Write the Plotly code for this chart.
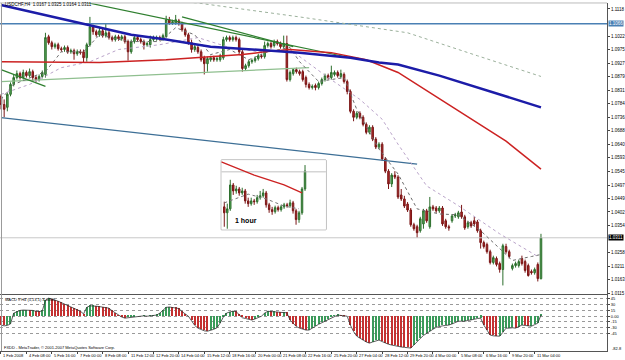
import plotly.graph_objects as go

# ---------------- DATA ----------------
opens = [1.0810,1.0781,1.0771,1.0817,1.0852,1.0876,1.0890,1.0876,1.0894,1.0883,
1.0897,1.0876,1.0869,1.0880,1.0887,1.1020,1.0999,1.0985,1.0992,1.0978,
1.0975,1.0982,1.0967,1.0971,1.0960,1.0967,1.0967,1.0946,1.0992,1.1055,
1.1038,1.1027,1.1041,1.1024,1.1034,1.1017,1.1010,1.1020,1.1013,1.1020,
1.1003,1.0967,1.1003,1.1017,1.1010,1.1003,1.0992,1.0992,1.1010,1.1013,
1.1017,1.1013,1.1020,1.1080,1.1069,1.1069,1.1076,1.1066,1.1045,1.1027,
1.0999,1.0975,1.0982,1.0967,1.0946,1.0925,1.0939,1.0946,1.0939,1.0939,
1.0946,1.1010,1.1017,1.1010,1.1017,1.1010,1.0967,1.0908,1.0918,1.0932,
1.0936,1.0943,1.0953,1.0950,1.0989,1.0996,1.0989,1.1003,1.0996,1.0985,
1.0996,1.0869,1.0890,1.0904,1.0897,1.0897,1.0876,1.0852,1.0841,1.0848,
1.0841,1.0855,1.0869,1.0883,1.0876,1.0887,1.0894,1.0880,1.0887,1.0862,
1.0827,1.0757,1.0736,1.0750,1.0736,1.0711,1.0683,1.0701,1.0659,1.0631,
1.0641,1.0589,1.0546,1.0501,1.0532,1.0525,1.0462,1.0448,1.0430,1.0409,
1.0357,1.0350,1.0336,1.0360,1.0406,1.0350,1.0420,1.0416,1.0406,1.0416,
1.0371,1.0350,1.0371,1.0388,1.0385,1.0402,1.0385,1.0350,1.0364,1.0371,
1.0367,1.0336,1.0294,1.0287,1.0262,1.0224,1.0238,1.0220,1.0199,1.0280,
1.0262,1.0203,1.0213,1.0213,1.0238,1.0227,1.0213,1.0192,1.0188,1.0217,
1.0167]
highs = [1.0817,1.0799,1.0824,1.0859,1.0887,1.0901,1.0897,1.0904,1.0901,1.0908,
1.0904,1.0883,1.0887,1.0901,1.1034,1.1027,1.1006,1.0999,1.0999,1.0985,
1.0989,1.0989,1.0978,1.0978,1.0975,1.0975,1.0975,1.0999,1.1090,1.1062,
1.1045,1.1055,1.1048,1.1066,1.1041,1.1024,1.1027,1.1027,1.1027,1.1027,
1.1010,1.1010,1.1024,1.1024,1.1017,1.1010,1.1003,1.1024,1.1024,1.1024,
1.1024,1.1031,1.1094,1.1090,1.1080,1.1097,1.1083,1.1073,1.1052,1.1034,
1.1010,1.0992,1.0989,1.0975,1.0953,1.0950,1.0953,1.0953,1.0950,1.0960,
1.1020,1.1024,1.1024,1.1024,1.1024,1.1017,1.0975,1.0925,1.0939,1.0943,
1.0950,1.0960,1.0960,1.1003,1.1003,1.1003,1.1010,1.1010,1.1003,1.1024,
1.1024,1.0901,1.0908,1.0911,1.0904,1.0904,1.0883,1.0859,1.0852,1.0855,
1.0862,1.0876,1.0890,1.0890,1.0918,1.0901,1.0901,1.0904,1.0894,1.0869,
1.0834,1.0764,1.0757,1.0757,1.0743,1.0718,1.0708,1.0708,1.0666,1.0648,
1.0648,1.0596,1.0553,1.0539,1.0546,1.0532,1.0483,1.0459,1.0437,1.0416,
1.0364,1.0357,1.0385,1.0413,1.0413,1.0455,1.0427,1.0423,1.0423,1.0423,
1.0378,1.0357,1.0395,1.0399,1.0406,1.0427,1.0392,1.0371,1.0371,1.0385,
1.0374,1.0343,1.0301,1.0294,1.0269,1.0248,1.0245,1.0227,1.0290,1.0290,
1.0269,1.0220,1.0227,1.0234,1.0248,1.0234,1.0220,1.0199,1.0206,1.0224,
1.0325]
lows = [1.0764,1.0736,1.0757,1.0810,1.0845,1.0869,1.0869,1.0869,1.0876,1.0876,
1.0862,1.0859,1.0862,1.0873,1.0876,1.0992,1.0975,1.0978,1.0971,1.0967,
1.0967,1.0960,1.0960,1.0939,1.0953,1.0957,1.0929,1.0932,1.0985,1.1027,
1.1020,1.1020,1.1017,1.1017,1.1010,1.1003,1.1003,1.1006,1.1006,1.0996,
1.0936,1.0960,1.0996,1.1003,1.0996,1.0975,1.0985,1.0982,1.1003,1.1006,
1.1006,1.1006,1.1017,1.1062,1.1062,1.1062,1.1059,1.1038,1.1020,1.0992,
1.0964,1.0967,1.0960,1.0932,1.0887,1.0897,1.0932,1.0932,1.0932,1.0932,
1.0939,1.1003,1.1003,1.1003,1.1003,1.0960,1.0897,1.0901,1.0911,1.0925,
1.0929,1.0936,1.0943,1.0943,1.0982,1.0978,1.0982,1.0989,1.0978,1.0978,
1.0862,1.0862,1.0883,1.0890,1.0883,1.0862,1.0841,1.0834,1.0834,1.0831,
1.0834,1.0848,1.0862,1.0869,1.0869,1.0880,1.0876,1.0873,1.0855,1.0817,
1.0750,1.0722,1.0729,1.0729,1.0704,1.0676,1.0676,1.0652,1.0624,1.0624,
1.0582,1.0539,1.0483,1.0490,1.0518,1.0448,1.0441,1.0416,1.0402,1.0350,
1.0336,1.0311,1.0329,1.0343,1.0364,1.0343,1.0406,1.0399,1.0399,1.0353,
1.0343,1.0336,1.0364,1.0381,1.0378,1.0378,1.0339,1.0343,1.0346,1.0353,
1.0329,1.0273,1.0273,1.0255,1.0217,1.0217,1.0210,1.0188,1.0143,1.0255,
1.0238,1.0196,1.0206,1.0206,1.0213,1.0188,1.0174,1.0181,1.0181,1.0157,
1.0164]
closes = [1.0781,1.0764,1.0817,1.0852,1.0876,1.0890,1.0876,1.0894,1.0883,1.0897,
1.0876,1.0869,1.0880,1.0894,1.1017,1.0999,1.0985,1.0992,1.0978,1.0975,
1.0982,1.0967,1.0971,1.0960,1.0967,1.0964,1.0946,1.0992,1.1055,1.1038,
1.1027,1.1041,1.1024,1.1034,1.1017,1.1010,1.1020,1.1013,1.1020,1.1003,
1.0967,1.1003,1.1017,1.1010,1.1003,1.0992,1.0996,1.1010,1.1017,1.1017,
1.1013,1.1024,1.1080,1.1069,1.1073,1.1080,1.1066,1.1045,1.1027,1.0999,
1.0975,1.0985,1.0967,1.0939,1.0925,1.0943,1.0946,1.0939,1.0943,1.0953,
1.1010,1.1017,1.1010,1.1017,1.1010,1.0967,1.0908,1.0918,1.0932,1.0936,
1.0943,1.0953,1.0950,1.0989,1.0996,1.0985,1.1003,1.0996,1.0985,1.0996,
1.0869,1.0894,1.0904,1.0897,1.0890,1.0869,1.0852,1.0841,1.0845,1.0841,
1.0855,1.0869,1.0883,1.0876,1.0894,1.0894,1.0883,1.0890,1.0862,1.0827,
1.0757,1.0736,1.0750,1.0736,1.0711,1.0683,1.0701,1.0659,1.0631,1.0641,
1.0589,1.0546,1.0501,1.0532,1.0525,1.0455,1.0448,1.0423,1.0409,1.0357,
1.0343,1.0329,1.0378,1.0406,1.0371,1.0420,1.0413,1.0406,1.0416,1.0360,
1.0350,1.0346,1.0388,1.0392,1.0399,1.0385,1.0346,1.0364,1.0353,1.0360,
1.0336,1.0294,1.0280,1.0262,1.0224,1.0241,1.0217,1.0199,1.0283,1.0262,
1.0245,1.0213,1.0220,1.0227,1.0220,1.0196,1.0178,1.0188,1.0199,1.0167,
1.0311]

macd = [-23,-25,-24,-20,8,12,15,16,16,15,
15,13,12,14,41,47,45,42,39,35,
31,27,24,21,17,13,6,23,27,27,
26,25,24,23,21,14,8,2,-2,-5,
-4,-2,-1,0,0,1,0,1,2,3,
8,15,23,24,23,22,20,12,5,0,
-12,-24,-31,-35,-38,-39,-37,-34,-30,-18,
-2,8,11,13,12,3,-4,-6,-9,-10,
-7,-3,0,8,13,12,12,11,10,10,
9,-10,-20,-27,-31,-34,-36,-36,-32,-26,
-21,-17,-13,-7,-3,1,3,2,1,0,
-23,-40,-52,-58,-62,-67,-70,-67,-64,-62,
-66,-70,-73,-75,-77,-78,-80,-81,-82,-82.8,
-75,-65,-58,-50,-44,-39,-34,-29,-26,-25,
-24,-23,-20,-16,-13,-13,-13,-11,-10,-8,
-6,-5,-23,-38,-49,-51,-52,-52,-42,-31,
-31,-30,-31,-28,-23,-24,-26,-26,-22,-18,
3]

# moving averages (bar index, price) read at points along each line
ma_blue_bar = [0, 28, 41, 52, 66, 94, 110, 119, 125, 138, 150, 160, 170]
ma_blue_val = [1.1132, 1.1062, 1.1027, 1.1010, 1.0985, 1.0964, 1.0946, 1.0929, 1.0922, 1.0883, 1.0841, 1.0806, 1.0771]
ma_red_bar = [0, 31, 52, 66, 76, 83, 91, 104, 115, 125, 148, 159, 170]
ma_red_val = [1.0932, 1.0929, 1.0939, 1.0950, 1.0957, 1.0967, 1.0975, 1.0964, 1.0939, 1.0894, 1.0729, 1.0652, 1.0553]
ma_slow_bar = [55, 62, 94, 128, 150, 170]
ma_slow_val = [1.1145, 1.1139, 1.1090, 1.1034, 1.0953, 1.0880]
ema_mid_bar = [0, 9, 19, 28, 37, 50, 62, 72, 81, 91, 103, 113, 120, 125, 134, 144, 157, 169]
ema_mid_val = [1.0817, 1.0852, 1.0911, 1.0932, 1.0975, 1.0992, 1.1017, 1.0982, 1.0967, 1.0975,
               1.0876, 1.0799, 1.0729, 1.0641, 1.0494, 1.0424, 1.0325, 1.0245]
ema_fast_bar = [0, 4, 14, 19, 26, 31, 40, 50, 55, 61, 66, 72, 78, 84, 91, 94, 100, 108, 112, 119,
                125, 131, 138, 144, 151, 157, 161, 167, 170]
ema_fast_val = [1.0799, 1.0852, 1.0897, 1.0967, 1.0967, 1.1027, 1.1003, 1.1003, 1.1052, 1.1027,
                1.0957, 1.0975, 1.0939, 1.0967, 1.0982, 1.0932, 1.0862, 1.0876, 1.0764, 1.0624,
                1.0536, 1.0413, 1.0395, 1.0392, 1.0336, 1.0273, 1.0231, 1.0245, 1.0252]

# hand-drawn trend lines (bar index, price)
trend_lines = {
    "green_a": ([23, 110], [1.1150, 1.0946]),
    "green_b": ([57, 92], [1.1090, 1.0985]),
    "green_c": ([0, 14], [1.0904, 1.0845]),
}
sage_bar = [0, 66, 97]
sage_val = [1.0862, 1.0897, 1.0911]
channel_bar = [0, 131]
channel_val = [1.0735, 1.0571]
level_price = 1.1066
last_price = 1.0311

# axis labels (the two hidden under the coloured price boxes are left out)
price_ticks = ["1.1118", "1.1022", "1.0975", "1.0927", "1.0879", "1.0831", "1.0784",
               "1.0736", "1.0688", "1.0640", "1.0593", "1.0545", "1.0497", "1.0449", "1.0402",
               "1.0354", "1.0258", "1.0211", "1.0163", "1.0115"]
macd_ticks = [45, 30, 15, 0, -15, -30, -45]
macd_tick_text = ["45", "30", "15", "0.00", "-15", "-30", "-45"]
macd_min_label = "-82.8"

date_labels = ["1 Feb 2008", "4 Feb 08:00", "5 Feb 16:00", "7 Feb 00:00", "8 Feb 08:00",
               "11 Feb 12:00", "12 Feb 20:00", "14 Feb 04:00", "15 Feb 12:00", "18 Feb 16:00",
               "20 Feb 00:00", "21 Feb 08:00", "22 Feb 16:00", "25 Feb 20:00", "27 Feb 04:00",
               "28 Feb 12:00", "29 Feb 20:00", "4 Mar 00:00", "5 Mar 08:00", "6 Mar 16:00",
               "9 Mar 20:00", "11 Mar 04:00"]
bars_per_label = 8

# inset "1 hour" chart
ins_open = [1.0230,1.0215,1.0225,1.0285,1.0270,1.0275,1.0265,1.0270,1.0245,1.0238,
            1.0245,1.0243,1.0253,1.0258,1.0265,1.0235,1.0223,1.0218,1.0228,1.0223,
            1.0230,1.0235,1.0233,1.0240,1.0220,1.0198,1.0215,1.0275]
ins_high = [1.0243,1.0238,1.0298,1.0290,1.0283,1.0280,1.0278,1.0275,1.0253,1.0253,
            1.0250,1.0260,1.0270,1.0275,1.0270,1.0240,1.0230,1.0233,1.0233,1.0235,
            1.0240,1.0240,1.0248,1.0245,1.0225,1.0220,1.0280,1.0335]
ins_low = [1.0180,1.0175,1.0220,1.0260,1.0263,1.0258,1.0260,1.0238,1.0230,1.0233,
           1.0235,1.0238,1.0248,1.0253,1.0228,1.0215,1.0210,1.0213,1.0218,1.0218,
           1.0225,1.0228,1.0228,1.0213,1.0185,1.0190,1.0210,1.0270]
ins_close = [1.0215,1.0225,1.0285,1.0270,1.0275,1.0265,1.0270,1.0245,1.0238,1.0245,
             1.0243,1.0253,1.0258,1.0265,1.0235,1.0223,1.0218,1.0228,1.0223,1.0230,
             1.0235,1.0233,1.0240,1.0220,1.0198,1.0215,1.0275,1.0320]
ins_red_bar = [-1, 10, 20, 26]
ins_red_val = [1.0343, 1.0310, 1.0285, 1.0265]
ins_ema_bar = [0, 8, 14, 20, 25]
ins_ema_val = [1.0240, 1.0262, 1.0250, 1.0232, 1.0225]
ins_level = 1.0318

# ---------------- FIGURE ----------------
W, H = 625, 360
idx = list(range(len(closes)))
ins_idx = list(range(len(ins_close)))
XR = [-0.31, 190.8]
XD = [0, 609 / W]
main_dom = [1 - 296 / H, 1 - 3 / H]
macd_dom = [1 - 353 / H, 1 - 297 / H]

GREEN_LINE, GREEN_FILL = "#2c6e2c", "#5aaa5a"
RED_LINE, RED_FILL = "#7a1616", "#b22a2a"
FONT = "Liberation Sans, Arial, sans-serif"

fig = go.Figure()

def line(x, y, color, width, dash="solid", xa="x", ya="y"):
    fig.add_trace(go.Scatter(x=x, y=y, mode="lines", xaxis=xa, yaxis=ya,
                             line=dict(color=color, width=width, dash=dash),
                             hoverinfo="skip", showlegend=False))

# horizontal levels
line([XR[0], XR[1]], [last_price, last_price], "#c8c8c8", 1)
line([XR[0], XR[1]], [level_price, level_price], "#4a80b4", 1.6)

# trend lines
line(channel_bar, channel_val, "#3d6f96", 1.2)
line(sage_bar, sage_val, "#8fbf8f", 1.2)
for name, (bx, bv) in trend_lines.items():
    line(bx, bv, "#2f7f2f", 1.2)

# moving averages
line(ma_slow_bar, ma_slow_val, "#9bb09b", 1, "dot")
line(ema_mid_bar, ema_mid_val, "#b9a3c9", 1, "dot")
line(ema_fast_bar, ema_fast_val, "#6c6c6c", 1, "dot")
line(ma_red_bar, ma_red_val, "#cc2222", 1.5)
line(ma_blue_bar, ma_blue_val, "#1c1ca8", 2.5)

fig.add_trace(go.Candlestick(
    x=idx, open=opens, high=highs, low=lows, close=closes, xaxis="x", yaxis="y",
    increasing=dict(line=dict(color=GREEN_LINE, width=1), fillcolor=GREEN_FILL),
    decreasing=dict(line=dict(color=RED_LINE, width=1), fillcolor=RED_FILL),
    whiskerwidth=0, hoverinfo="skip", showlegend=False))

# MACD histogram
bar_colors = ["#3a9a5a" if (i > 0 and v >= macd[i - 1]) else "#c43030" for i, v in enumerate(macd)]
fig.add_trace(go.Bar(x=idx, y=macd, xaxis="x2", yaxis="y2", marker=dict(color=bar_colors, line=dict(width=0)),
                     width=0.35, hoverinfo="skip", showlegend=False))
line(idx, macd, "#333333", 0.8, xa="x2", ya="y2")

# inset
fig.add_trace(go.Scatter(x=[-1, 34], y=[ins_level, ins_level], mode="lines", xaxis="x3", yaxis="y3",
                         line=dict(color="#c0c0c0", width=1), hoverinfo="skip", showlegend=False))
line(ins_ema_bar, ins_ema_val, "#777777", 1, "dot", xa="x3", ya="y3")
line(ins_red_bar, ins_red_val, "#cc2222", 1.3, xa="x3", ya="y3")
fig.add_trace(go.Candlestick(
    x=ins_idx, open=ins_open, high=ins_high, low=ins_low, close=ins_close, xaxis="x3", yaxis="y3",
    increasing=dict(line=dict(color=GREEN_LINE, width=1), fillcolor=GREEN_FILL),
    decreasing=dict(line=dict(color=RED_LINE, width=1), fillcolor=RED_FILL),
    whiskerwidth=0, hoverinfo="skip", showlegend=False))

ins_x = [222 / W, 327 / W]
ins_y = [1 - 231 / H, 1 - 161 / H]

fig.update_layout(
    width=W, height=H, margin=dict(l=0, r=0, t=0, b=0),
    paper_bgcolor="white", plot_bgcolor="white", showlegend=False,
    font=dict(family=FONT, size=4, color="black"),
    xaxis=dict(domain=XD, range=XR, anchor="y", showticklabels=False, showgrid=False,
               zeroline=False, showline=True, linecolor="#555", linewidth=1, ticks="",
               rangeslider=dict(visible=False), fixedrange=True),
    yaxis=dict(domain=main_dom, range=[1.01115, 1.11391], anchor="x", side="right",
               tickvals=[float(t) for t in price_ticks], ticktext=price_ticks,
               ticks="outside", ticklen=2, tickcolor="#444", tickfont=dict(size=4.5),
               showline=True, linecolor="#555", linewidth=1, showgrid=False, zeroline=False),
    xaxis2=dict(domain=XD, range=XR, anchor="y2", showticklabels=False, showgrid=False,
                zeroline=False, showline=True, mirror=True, linecolor="#555", linewidth=1,
                ticks="outside", ticklen=2, tickcolor="#444",
                tickvals=[i * bars_per_label for i in range(len(date_labels))]),
    yaxis2=dict(domain=macd_dom, range=[-90.6, 54.3], anchor="x2", side="right",
                tickvals=macd_ticks, ticktext=macd_tick_text, ticks="outside", ticklen=2,
                tickcolor="#444", tickfont=dict(size=4), showline=True, linecolor="#555",
                linewidth=1, showgrid=True, gridcolor="#9a9a9a", gridwidth=0.6, griddash="dot",
                zeroline=False),
    xaxis3=dict(domain=ins_x, range=[-1, 34], anchor="y3", visible=False,
                rangeslider=dict(visible=False)),
    yaxis3=dict(domain=ins_y, range=[1.01725, 1.03475], anchor="x3", visible=False),
    bargap=0,
)

shapes = [
    dict(type="rect", xref="paper", yref="paper", x0=ins_x[0], x1=ins_x[1], y0=ins_y[0], y1=ins_y[1],
         line=dict(color="#808080", width=1), fillcolor="white", layer="below"),
    dict(type="line", xref="paper", yref="paper", x0=1.5 / W, x1=1.5 / W, y0=macd_dom[0], y1=main_dom[1],
         line=dict(color="#999", width=1)),
    dict(type="line", xref="paper", yref="paper", x0=0, x1=XD[1], y0=main_dom[1], y1=main_dom[1],
         line=dict(color="#bbb", width=1)),
]
fig.update_layout(shapes=shapes)

ann = []
# price boxes on the axis
ann.append(dict(xref="paper", yref="y", x=610 / W, y=level_price, text="1.1066", showarrow=False,
                xanchor="left", yanchor="middle", font=dict(size=4.5, color="white"),
                bgcolor="#4a80b4", borderpad=0))
ann.append(dict(xref="paper", yref="y", x=610 / W, y=last_price, text="1.0311", showarrow=False,
                xanchor="left", yanchor="middle", font=dict(size=4.5, color="white"),
                bgcolor="black", borderpad=0))
ann.append(dict(xref="paper", yref="paper", x=612 / W, y=1 - 350 / H, text=macd_min_label, showarrow=False,
                xanchor="left", yanchor="middle", font=dict(size=4)))
# titles
ann.append(dict(xref="paper", yref="paper", x=3 / W, y=1 - 5 / H,
                text="USDCHF,H4  1.0167 1.0325 1.0164 1.0311", showarrow=False,
                xanchor="left", yanchor="middle", font=dict(size=4.5)))
ann.append(dict(xref="paper", yref="paper", x=3 / W, y=1 - 301 / H,
                text="MACD 9 H4 (5,13,1) 3.0000", showarrow=False,
                xanchor="left", yanchor="middle", font=dict(size=4)))
ann.append(dict(xref="paper", yref="paper", x=2 / W, y=1 - 349 / H,
                text="FXDD - MetaTrader, © 2001-2007 MetaQuotes Software Corp.", showarrow=False,
                xanchor="left", yanchor="middle", font=dict(size=4)))
ann.append(dict(xref="paper", yref="paper", x=234 / W, y=1 - 222 / H, text="<b>1 hour</b>",
                showarrow=False, xanchor="left", yanchor="middle", font=dict(size=7, color="black")))
# date labels
for i, lab in enumerate(date_labels):
    ann.append(dict(xref="x2", yref="paper", x=i * bars_per_label, y=1 - 357 / H, text=lab,
                    showarrow=False, xanchor="left", yanchor="middle", xshift=0.5,
                    font=dict(size=4)))
fig.update_layout(annotations=ann)

fig.write_html("out.html")
